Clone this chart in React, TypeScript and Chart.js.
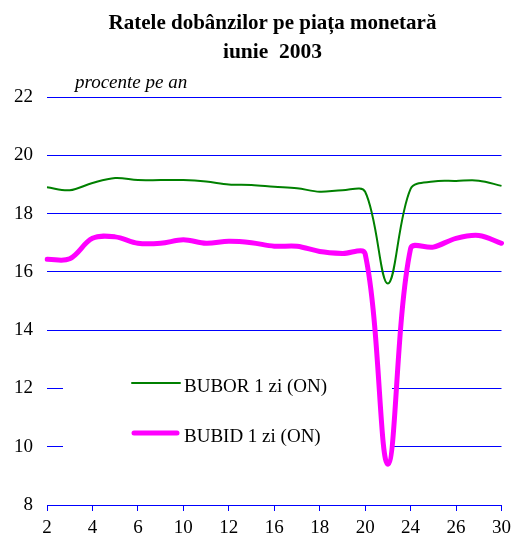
import React, { useEffect, useRef } from "react";
import { Chart, registerables } from "chart.js";

Chart.register(...registerables);

const days = ["2", "3", "4", "5", "6", "9", "10", "11", "12", "13", "16", "17", "18", "19", "20", "23", "24", "25", "26", "27", "30"];
const bubor = [18.9, 18.8, 19.05, 19.22, 19.15, 19.15, 19.15, 19.1, 19.0, 18.98, 18.92, 18.87, 18.75, 18.8, 18.75, 15.6, 18.85, 19.1, 19.12, 19.13, 18.95];
const bubid = [16.43, 16.45, 17.15, 17.2, 16.98, 16.98, 17.1, 16.98, 17.05, 17.0, 16.88, 16.88, 16.7, 16.63, 16.62, 9.4, 16.8, 16.85, 17.15, 17.25, 16.98];
const titleLines = ["Ratele dobânzilor pe piața monetară", "iunie  2003"];
const unitLabel = "procente pe an";
const seriesNames = ["BUBOR 1 zi (ON)", "BUBID 1 zi (ON)"];
const yMin = 8;
const yMax = 22;
const yStep = 2;

const SERIF = '"Liberation Serif", "Times New Roman", serif';

const overlayPlugin = {
  id: "overlay",
  beforeDatasetsDraw(chart: any) {
    const ctx = chart.ctx;
    ctx.save();
    // legend box (opaque white, covers grid lines)
    ctx.fillStyle = "#ffffff";
    ctx.fillRect(63, 352, 329, 112);
    // legend entries
    ctx.lineCap = "round";
    ctx.strokeStyle = "#008000";
    ctx.lineWidth = 2;
    ctx.beginPath();
    ctx.moveTo(132, 383);
    ctx.lineTo(180, 383);
    ctx.stroke();
    ctx.strokeStyle = "#ff00ff";
    ctx.lineWidth = 5;
    ctx.beginPath();
    ctx.moveTo(134, 433);
    ctx.lineTo(177, 433);
    ctx.stroke();
    ctx.fillStyle = "#000000";
    ctx.font = `19px ${SERIF}`;
    ctx.textBaseline = "alphabetic";
    ctx.textAlign = "left";
    ctx.fillText(seriesNames[0], 184, 392);
    ctx.fillText(seriesNames[1], 184, 442);
    ctx.restore();
  },
  afterDraw(chart: any) {
    const ctx = chart.ctx;
    ctx.save();
    ctx.fillStyle = "#000000";
    ctx.textBaseline = "alphabetic";
    // title
    ctx.textAlign = "center";
    ctx.font = `bold 21px ${SERIF}`;
    ctx.fillText(titleLines[0], 272.5, 29);
    ctx.font = `bold 21.5px ${SERIF}`;
    ctx.fillText(titleLines[1], 272.5, 58);
    // unit label
    ctx.textAlign = "left";
    ctx.font = `italic 19px ${SERIF}`;
    ctx.fillText(unitLabel, 75, 88);
    ctx.restore();
  },
};

export default function App() {
  const ref = useRef<HTMLCanvasElement>(null);
  useEffect(() => {
    if (!ref.current) return;
    const chart = new Chart(ref.current, {
      type: "line",
      data: {
        labels: days,
        datasets: [
          {
            label: seriesNames[0],
            data: bubor,
            borderColor: "#008000",
            borderWidth: 2,
            pointRadius: 0,
            tension: 0.35,
            fill: false,
          },
          {
            label: seriesNames[1],
            data: bubid,
            borderColor: "#ff00ff",
            borderWidth: 5,
            pointRadius: 0,
            tension: 0.35,
            fill: false,
            borderCapStyle: "round",
            borderJoinStyle: "round",
          },
        ],
      },
      options: {
        responsive: false,
        animation: false,
        devicePixelRatio: 1,
        layout: { padding: { left: 0, right: 12, top: 97, bottom: 0 } },
        plugins: {
          legend: { display: false },
          tooltip: { enabled: false },
          title: { display: false },
        },
        scales: {
          x: {
            type: "category",
            offset: false,
            border: { display: false },
            grid: {
              drawOnChartArea: false,
              drawTicks: true,
              tickLength: 6,
              color: (c: any) => (c.index % 2 === 0 ? "#0000ff" : "rgba(0,0,0,0)"),
            },
            ticks: {
              autoSkip: false,
              maxRotation: 0,
              padding: 6,
              color: "#000000",
              font: { family: SERIF, size: 19 },
              callback: (_v: any, i: number) => (i % 2 === 0 ? days[i] : ""),
            },
            afterFit: (s: any) => {
              s.height = 33;
            },
          },
          y: {
            min: yMin,
            max: yMax,
            border: { display: false },
            grid: { drawTicks: false, color: "#0000ff", lineWidth: 1 },
            ticks: {
              stepSize: yStep,
              padding: 14,
              color: "#000000",
              font: { family: SERIF, size: 19 },
            },
            afterFit: (s: any) => {
              s.width = 47;
            },
          },
        },
      },
      plugins: [overlayPlugin],
    });
    return () => chart.destroy();
  }, []);
  return (
    <div style={{ position: "absolute", left: 0, top: 0, width: 517, height: 538, background: "#fff" }}>
      <canvas ref={ref} width={517} height={538} style={{ width: 517, height: 538, display: "block" }} />
    </div>
  );
}
